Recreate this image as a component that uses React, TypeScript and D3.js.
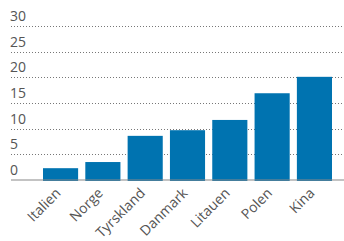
import React, { useEffect, useRef } from 'react';
import * as d3 from 'd3';

const countries = ['Italien', 'Norge', 'Tyrskland', 'Danmark', 'Litauen', 'Polen', 'Kina'];
const values = [2.3, 3.5, 8.6, 9.7, 11.7, 16.9, 20.1];
const yTicks = [0, 5, 10, 15, 20, 25, 30];

const App = () => {
    const svgRef = useRef<SVGSVGElement>(null);

    useEffect(() => {
        const width = 344;
        const height = 241;
        const svg = d3.select(svgRef.current);
        svg.selectAll('*').remove();
        svg.attr('width', width).attr('height', height);

        const x = d3.scaleBand<string>()
            .domain(countries)
            .range([43, 332])
            .paddingInner(0.17)
            .paddingOuter(0);

        const y = d3.scaleLinear().domain([0, 30]).range([180, 26]);

        // grid + tick labels
        const grid = svg.append('g');
        yTicks.filter(t => t > 0).forEach(t => {
            grid.append('line')
                .attr('x1', 11).attr('x2', width)
                .attr('y1', Math.round(y(t)) + 0.5).attr('y2', Math.round(y(t)) + 0.5)
                .attr('stroke', '#777')
                .attr('stroke-width', 1)
                .attr('stroke-dasharray', '1,2');
        });
        yTicks.forEach(t => {
            grid.append('text')
                .attr('x', 10)
                .attr('y', y(t) - 5)
                .attr('fill', '#555')
                .attr('font-family', '"Open Sans", sans-serif')
                .attr('font-size', 14)
                .text(t);
        });

        // bars
        svg.selectAll('rect.bar')
            .data(values)
            .enter()
            .append('rect')
            .attr('class', 'bar')
            .attr('x', (d, i) => x(countries[i])!)
            .attr('y', d => y(d))
            .attr('width', x.bandwidth())
            .attr('height', d => y(0) - y(d) + 1)
            .attr('fill', '#0073b0');

        // baseline
        svg.append('line')
            .attr('x1', 11).attr('x2', width)
            .attr('y1', y(0)).attr('y2', y(0))
            .attr('stroke', '#888')
            .attr('stroke-width', 1.2);

        // category labels
        svg.selectAll('text.cat')
            .data(countries)
            .enter()
            .append('text')
            .attr('class', 'cat')
            .attr('transform', d => `translate(${x(d)! + x.bandwidth() / 2 + 1},${194}) rotate(-45)`)
            .attr('text-anchor', 'end')
            .attr('fill', '#555')
            .attr('font-family', '"Open Sans", sans-serif')
            .attr('font-size', 14)
            .text(d => d);
    }, []);

    return (
        <svg ref={svgRef} style={{ position: 'absolute', left: 0, top: 0 }}></svg>
    );
};

export default App;
